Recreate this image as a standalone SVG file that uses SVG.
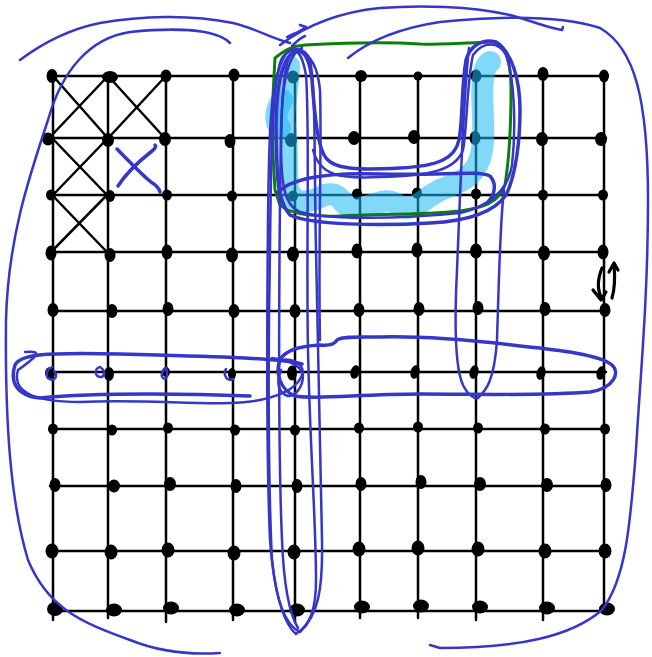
<svg xmlns="http://www.w3.org/2000/svg" width="652" height="657" viewBox="0 0 652 657">
<style>
.g{stroke:#000;stroke-width:2.5;fill:none;stroke-linecap:round}
.d{fill:#000}
.b{stroke:#3636c8;stroke-width:2.5;fill:none;stroke-linecap:round;stroke-linejoin:round}
.bt{stroke:#3636c8;stroke-width:3.5;fill:none;stroke-linecap:round;stroke-linejoin:round}
.gr{stroke:#0a800a;stroke-width:3;fill:none;stroke-linecap:round;stroke-linejoin:round}
.cy{stroke:#1ab8f2;stroke-opacity:0.55;stroke-width:22;fill:none;stroke-linecap:round;stroke-linejoin:round}
.ar{stroke:#000;stroke-width:3.2;fill:none;stroke-linecap:round;stroke-linejoin:round}
</style>
<rect width="652" height="657" fill="#fff"/>
<g id="grid">
<path class="g" d="M53,74V620M108,74V618M166,74V622M233,74V620M295,74V622M360,74V618M418,74V618M476,74V620M543,74V620M604,74V612"/>
<path class="g" d="M50,76H606M50,138H606M50,195H606M50,252H606M50,311H606M50,372H606M50,429H606M50,486H606M50,551H606M50,611H608"/>
</g>
<g id="xmarks">
<path class="g" d="M53,76L106,136M107,77L53,134M110,78L162,135M164,78L112,134M53,139L107,195M107,139L53,195M53,196L106,251M105,197L53,250"/>
</g>
<g id="dots">
<ellipse class="d" cx="52" cy="76" rx="5.5" ry="7"/><ellipse class="d" cx="110" cy="77" rx="8" ry="6"/><ellipse class="d" cx="166" cy="76" rx="5.5" ry="6.5"/><ellipse class="d" cx="234" cy="75" rx="5.5" ry="6.5"/><ellipse class="d" cx="293" cy="77" rx="6" ry="6.5"/><ellipse class="d" cx="361" cy="76" rx="6" ry="6"/><ellipse class="d" cx="418" cy="76" rx="4.5" ry="4.5"/><ellipse class="d" cx="476" cy="76" rx="5.5" ry="6.5"/><ellipse class="d" cx="543" cy="74" rx="5.5" ry="7"/><ellipse class="d" cx="604" cy="76" rx="5" ry="6.5"/>
<ellipse class="d" cx="48" cy="139" rx="6" ry="6.5"/><ellipse class="d" cx="108" cy="140" rx="6" ry="7"/><ellipse class="d" cx="165" cy="139" rx="6" ry="7"/><ellipse class="d" cx="230" cy="141" rx="5.5" ry="7"/><ellipse class="d" cx="291" cy="140" rx="6" ry="7"/><ellipse class="d" cx="354" cy="138" rx="6" ry="7"/><ellipse class="d" cx="414" cy="137" rx="6" ry="7"/><ellipse class="d" cx="475" cy="138" rx="5.5" ry="7"/><ellipse class="d" cx="542" cy="139" rx="6" ry="7"/><ellipse class="d" cx="601" cy="139" rx="6" ry="7"/>
<ellipse class="d" cx="51" cy="195" rx="5" ry="5.5"/><ellipse class="d" cx="110" cy="196" rx="5" ry="6"/><ellipse class="d" cx="167" cy="195" rx="5" ry="5.5"/><ellipse class="d" cx="232" cy="196" rx="5" ry="5.5"/><ellipse class="d" cx="293" cy="196" rx="5" ry="5.5"/><ellipse class="d" cx="357" cy="194" rx="5" ry="5.5"/><ellipse class="d" cx="417" cy="193" rx="5" ry="5.5"/><ellipse class="d" cx="476" cy="194" rx="5" ry="5.5"/><ellipse class="d" cx="543" cy="195" rx="5" ry="5.5"/><ellipse class="d" cx="603" cy="195" rx="5" ry="5.5"/>
<ellipse class="d" cx="51" cy="253" rx="5.5" ry="7.5"/><ellipse class="d" cx="110" cy="255" rx="5.5" ry="7"/><ellipse class="d" cx="167" cy="252" rx="5.5" ry="7.5"/><ellipse class="d" cx="232" cy="255" rx="6" ry="7.5"/><ellipse class="d" cx="293" cy="254" rx="6" ry="7.5"/><ellipse class="d" cx="357" cy="251" rx="5.5" ry="7.5"/><ellipse class="d" cx="417" cy="250" rx="5.5" ry="7.5"/><ellipse class="d" cx="476" cy="251" rx="6" ry="7.5"/><ellipse class="d" cx="544" cy="253" rx="6" ry="7.5"/><ellipse class="d" cx="603" cy="252" rx="5.5" ry="7.5"/>
<ellipse class="d" cx="53" cy="310" rx="5.5" ry="7"/><ellipse class="d" cx="112" cy="311" rx="5.5" ry="7"/><ellipse class="d" cx="168" cy="309" rx="5.5" ry="7"/><ellipse class="d" cx="234" cy="311" rx="5.5" ry="7"/><ellipse class="d" cx="295" cy="311" rx="5.5" ry="7"/><ellipse class="d" cx="359" cy="310" rx="5.5" ry="7"/><ellipse class="d" cx="419" cy="309" rx="5.5" ry="7"/><ellipse class="d" cx="478" cy="308" rx="5.5" ry="7"/><ellipse class="d" cx="545" cy="309" rx="5.5" ry="7"/><ellipse class="d" cx="605" cy="310" rx="5.5" ry="7"/>
<ellipse class="d" cx="50" cy="373" rx="5" ry="6"/><ellipse class="d" cx="109" cy="374" rx="5" ry="7"/><ellipse class="d" cx="166" cy="372" rx="4" ry="5"/><ellipse class="d" cx="232" cy="374" rx="4" ry="6"/><ellipse class="d" cx="292" cy="373" rx="5" ry="7.5"/><ellipse class="d" cx="355" cy="372" rx="4.5" ry="7" transform="rotate(15 355 372)"/><ellipse class="d" cx="415" cy="372" rx="4.5" ry="7" transform="rotate(15 415 372)"/><ellipse class="d" cx="474" cy="372" rx="4.5" ry="7" transform="rotate(15 474 372)"/><ellipse class="d" cx="541" cy="373" rx="4.5" ry="7" transform="rotate(15 541 373)"/><ellipse class="d" cx="601" cy="373" rx="4.5" ry="7" transform="rotate(15 601 373)"/>
<ellipse class="d" cx="53" cy="429" rx="5" ry="5.5"/><ellipse class="d" cx="112" cy="430" rx="5" ry="5.5"/><ellipse class="d" cx="168" cy="428" rx="5" ry="5.5"/><ellipse class="d" cx="235" cy="430" rx="5" ry="5.5"/><ellipse class="d" cx="295" cy="430" rx="5" ry="5.5"/><ellipse class="d" cx="359" cy="428" rx="5" ry="5.5"/><ellipse class="d" cx="418" cy="427" rx="5" ry="5.5"/><ellipse class="d" cx="478" cy="428" rx="5" ry="5.5"/><ellipse class="d" cx="545" cy="429" rx="5" ry="5.5"/><ellipse class="d" cx="605" cy="429" rx="5" ry="5.5"/>
<ellipse class="d" cx="55" cy="485" rx="5.5" ry="7"/><ellipse class="d" cx="114" cy="486" rx="6" ry="6.5"/><ellipse class="d" cx="170" cy="484" rx="6" ry="7"/><ellipse class="d" cx="236" cy="486" rx="5.5" ry="7"/><ellipse class="d" cx="297" cy="486" rx="5.5" ry="7"/><ellipse class="d" cx="361" cy="484" rx="5.5" ry="7"/><ellipse class="d" cx="421" cy="482" rx="5.5" ry="7"/><ellipse class="d" cx="480" cy="484" rx="6" ry="7"/><ellipse class="d" cx="547" cy="485" rx="6" ry="7"/><ellipse class="d" cx="606" cy="485" rx="5.5" ry="7"/>
<ellipse class="d" cx="52" cy="551" rx="6.5" ry="7.5"/><ellipse class="d" cx="111" cy="552" rx="6.5" ry="7.5"/><ellipse class="d" cx="168" cy="550" rx="6.5" ry="7.5"/><ellipse class="d" cx="234" cy="553" rx="6.5" ry="7.5"/><ellipse class="d" cx="294" cy="552" rx="6.5" ry="7.5"/><ellipse class="d" cx="359" cy="549" rx="6.5" ry="7.5"/><ellipse class="d" cx="418" cy="548" rx="6.5" ry="7.5"/><ellipse class="d" cx="478" cy="549" rx="6.5" ry="7.5"/><ellipse class="d" cx="545" cy="551" rx="6.5" ry="7.5"/><ellipse class="d" cx="605" cy="551" rx="6.5" ry="7.5"/>
<ellipse class="d" cx="55" cy="609" rx="8" ry="7"/><ellipse class="d" cx="114" cy="610" rx="8" ry="6.5"/><ellipse class="d" cx="171" cy="608" rx="8" ry="6.5"/><ellipse class="d" cx="237" cy="610" rx="8" ry="6.5"/><ellipse class="d" cx="297" cy="610" rx="8" ry="6.5"/><ellipse class="d" cx="362" cy="607" rx="8" ry="6.5"/><ellipse class="d" cx="421" cy="606" rx="8" ry="6.5"/><ellipse class="d" cx="480" cy="607" rx="8" ry="6.5"/><ellipse class="d" cx="547" cy="608" rx="8" ry="6.5"/><ellipse class="d" cx="607" cy="609" rx="8" ry="6.5"/>
</g>
<g id="highlight">
<path class="cy" d="M289,66C288,90 283,110 285,125C288,145 286,170 288,188C292,204 305,205 325,195C345,190 340,212 360,208C380,204 385,196 400,206C415,214 425,195 445,188C462,182 478,175 482,150C486,125 480,100 483,80C484,70 486,64 490,62"/>
<path class="cy" d="M282,100C276,110 274,120 280,128" stroke-width="16"/>
</g>
<g id="greenloop">
<path class="gr" d="M275,190C272,150 272,100 275,58C285,50 292,46 305,45C340,43 380,41 420,44C450,45 480,42 495,42C505,45 511,60 511,90C511,130 509,160 505,185C499,203 482,208 460,211C420,215 380,214 340,216C310,217 290,214 280,205Z"/>
</g>
<g id="annotations">
<path class="b" d="M20,60C40,45 65,30 100,23C140,16 190,14 233,23C255,28 270,38 290,43"/>
<path class="b" d="M230,43C215,28 170,28 130,32C90,38 62,70 48,120C28,180 8,240 6,320C5,420 10,500 28,560C48,608 80,622 130,640C160,652 190,655 220,653"/>
<path class="b" d="M348,58C370,40 400,28 440,22C500,16 560,15 600,28C635,48 648,100 648,200C648,300 640,380 636,450C630,530 625,580 602,610C572,636 520,648 440,648L430,645"/>
<path class="b" d="M280,45C300,30 330,13 380,8C420,5 470,6 510,15C535,22 548,28 562,30L563,27"/>
<path class="b" d="M287,37C293,34 300,32 306,27L300,25M292,46C298,40 300,38 305,36"/>
<path class="b" d="M300,632C285,625 276,600 272,560C268,480 268,350 270,250C271,150 272,80 282,58C290,46 305,46 310,60C316,90 314,160 316,250C318,350 320,450 322,540C323,590 318,615 300,632"/>
<path class="b" d="M296,634C282,622 274,590 270,540C266,450 267,320 268,220C269,130 270,80 285,55C295,44 302,52 306,75C310,130 306,250 308,350C310,450 316,520 316,580C316,610 310,625 296,634"/>
<path class="b" d="M298,628C290,615 284,590 282,540C278,450 279,300 280,200C281,120 282,70 290,55M300,52C312,55 318,70 320,90C322,140 318,250 320,340"/>
<path class="bt" d="M298,50C283,55 276,80 276,130C277,170 276,200 290,215C310,225 380,226 430,223C470,221 495,211 506,195C516,175 520,140 520,110C520,80 512,52 496,42C482,38 470,46 466,60C461,90 463,120 459,140C455,158 440,166 400,168C360,170 335,170 326,158C318,148 315,120 312,80C310,62 306,52 298,50"/>
<path class="b" d="M302,48C287,54 281,90 281,140C281,180 283,205 300,212C330,220 400,219 460,213C490,206 508,191 512,165C516,130 515,80 506,55C499,41 483,41 473,55C467,80 467,130 463,150C456,170 430,176 380,177C340,179 320,176 313,150"/>
<path class="bt" d="M278,192C290,180 320,172 380,174C440,176 478,170 490,176C497,184 495,194 488,202"/>
<path class="b" d="M469,48C463,100 460,200 457,270C454,330 456,370 463,385C468,395 474,399 478,398C484,392 494,385 497,340C499,280 500,220 504,190"/>
<path class="bt" d="M250,396C200,394 100,392 40,398C15,396 10,380 15,365C20,355 40,352 120,354C200,356 280,358 302,364"/>
<path class="b" d="M25,352C45,350 35,358 18,370C12,390 30,402 80,402C150,398 220,408 260,400C285,395 300,385 303,372C302,362 290,358 280,360"/>
<path class="bt" d="M280,360C275,372 280,390 295,396C315,400 360,394 420,394C480,394 540,396 590,392C615,388 620,372 612,365C600,355 560,350 520,346C470,340 420,336 380,337C360,337 342,336 337,340C335,344 330,346 320,345C300,346 285,350 280,360"/>
<path class="b" d="M272,358C285,360 300,363 303,375C303,388 295,396 288,396C278,393 276,382 281,370"/>
<path class="bt" d="M118,186C125,175 138,162 152,151Q157,147 155,145M117,149C128,160 140,173 151,182Q159,187 160,192"/>
<path class="b" d="M52,367C46,370 44,378 52,380C58,378 56,373 54,371M100,367C94,368 94,378 102,377C106,374 104,369 100,367M166,368C161,371 160,378 165,379C169,377 167,371 166,368M226,369C223,374 226,382 233,379"/>
<path class="ar" d="M602,268C598,278 597,290 602,299M593,290L601,300L606,292"/>
<path class="ar" d="M612,298C615,288 615,276 614,265M609,272L614,263L618,270"/>
</g>
</svg>
